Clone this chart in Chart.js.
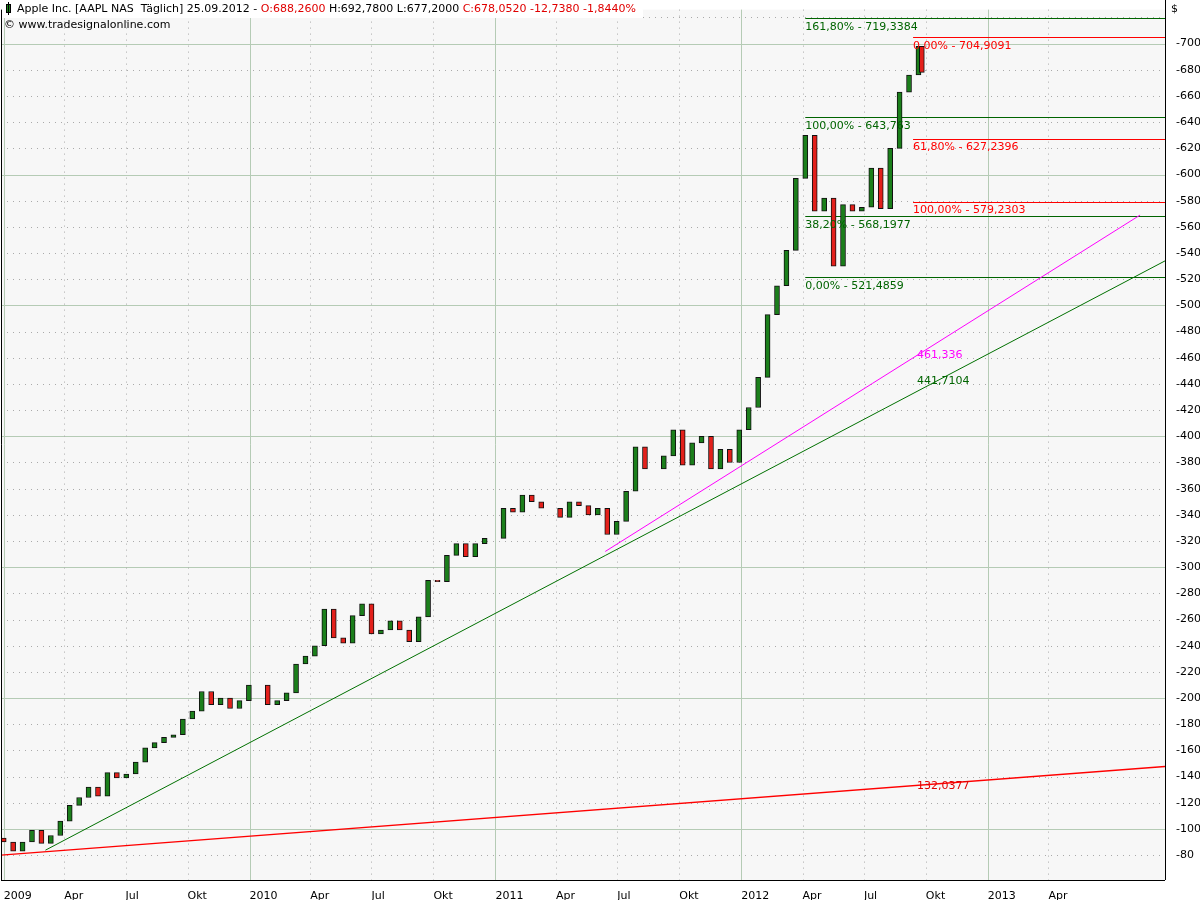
<!DOCTYPE html>
<html><head><meta charset="utf-8">
<script src="https://cdn.jsdelivr.net/npm/chart.js@4/dist/chart.umd.min.js"></script>
<style>html,body{margin:0;padding:0;background:#fff}#w{width:1200px;height:900px}</style>
</head><body><div id="w"><canvas id="c"></canvas></div>
<script>
// days since 2009-01-01, biweekly candles
const candleDays = [0,14,28,42,56,70,84,98,112,126,140,154,168,182,196,210,224,238,252,266,280,294,308,322,336,350,364,378,392,406,420,434,448,462,476,490,504,518,532,546,560,574,588,602,616,630,644,658,672,686,700,714,728,742,756,770,784,798,812,826,840,854,868,882,896,910,924,938,952,966,980,994,1008,1022,1036,1050,1064,1078,1092,1106,1120,1134,1148,1162,1176,1190,1204,1218,1232,1246,1260,1274,1288,1302,1316,1330,1344,1358,1363];
const closes = [90,83,90,99,89,95,106,118,124,132,125,143,139,142,151,162,166,170,172,184,190,205,195,200,192,198,210,210,195,198,204,226,232,240,268,246,242,263,272,249,252,259,252,243,262,290,289,309,318,308,318,322,322,345,342,355,350,345,345,338,350,347,340,345,325,335,358,392,375,375,385,405,378,395,400,375,390,380,405,422,445,493,515,542,597,630,572,582,530,577,572,575,605,574,620,663,676,698,678];
const firstOpen = 93;
const quarterDays = [0,90,181,273,365,455,546,638,730,820,911,1003,1095,1186,1277,1369,1461,1551];
const quarterLabels = ["2009","Apr","Jul","Okt","2010","Apr","Jul","Okt","2011","Apr","Jul","Okt","2012","Apr","Jul","Okt","2013","Apr"];
const redTrend = [{x:-4,y:80},{x:1724,y:147.7}];
const greenTrend = [{x:62,y:83.8},{x:1724,y:534}];
const magentaTrend = [{x:893,y:312},{x:1687,y:569}];
const fibGreen = [719.3384,643.763,568.1977,521.4859];
const fibGreenLabels = ["161,80% - 719,3384","100,00% - 643,763","38,20% - 568,1977","0,00% - 521,4859"];
const fibRed = [704.9091,627.2396,579.2303];
const fibRedLabels = ["0,00% - 704,9091","61,80% - 627,2396","100,00% - 579,2303"];
const fibGreenStart = 1190, fibRedStart = 1350, xMax = 1724;
const trendLabels = [{x:1350,y:461.336,t:"461,336",c:"#ff00ff"},{x:1350,y:441.7104,t:"441,7104",c:"#006400"},{x:1350,y:132.0377,t:"132,0377",c:"#e00000"}];

const candles = candleDays.map((d,i)=>({x:d,y:[i?closes[i-1]:firstOpen,closes[i]]}));
const candleColors = candles.map(c=>c.y[1]>=c.y[0]?'#1b7f1b':'#e3201b');

const font = '11px "DejaVu Sans", Verdana, sans-serif';
const bgPlugin = {
  id:'bg',
  beforeDatasetsDraw(ch){
    const {ctx,chartArea:a,scales:{x,y}}=ch;
    ctx.save();
    ctx.fillStyle='#f7f7f7';ctx.fillRect(a.left,a.top,a.right-a.left,a.bottom-a.top);
    ctx.lineWidth=1;
    for(let v=80;v<=720;v+=20){
      const py=Math.round(y.getPixelForValue(v))+0.5;
      if(v%100===0){ctx.setLineDash([]);ctx.strokeStyle='#b5cbb5';}
      else {ctx.setLineDash([1,5]);ctx.strokeStyle='#aaaaaa';}
      ctx.beginPath();ctx.moveTo(a.left,py);ctx.lineTo(a.right,py);ctx.stroke();
    }
    quarterDays.forEach((d,i)=>{
      const px=Math.round(x.getPixelForValue(d))+0.5;
      if(i%4===0){ctx.setLineDash([]);ctx.strokeStyle='#b5cbb5';}
      else {ctx.setLineDash([1,5]);ctx.strokeStyle='#aaaaaa';}
      ctx.beginPath();ctx.moveTo(px,a.top);ctx.lineTo(px,a.bottom);ctx.stroke();
    });
    ctx.setLineDash([]);
    ctx.strokeStyle='#006400';
    fibGreen.forEach(v=>{const py=Math.round(y.getPixelForValue(v))+0.5;ctx.beginPath();ctx.moveTo(x.getPixelForValue(fibGreenStart),py);ctx.lineTo(a.right,py);ctx.stroke();});
    ctx.strokeStyle='#ff0000';
    fibRed.forEach(v=>{const py=Math.round(y.getPixelForValue(v))+0.5;ctx.beginPath();ctx.moveTo(x.getPixelForValue(fibRedStart),py);ctx.lineTo(a.right,py);ctx.stroke();});
    ctx.restore();
  },
  afterDraw(ch){
    const {ctx,chartArea:a,scales:{x,y}}=ch;
    ctx.save();
    ctx.font=font;ctx.textBaseline='top';ctx.textAlign='left';
    ctx.fillStyle='#006400';
    fibGreen.forEach((v,i)=>ctx.fillText(fibGreenLabels[i],x.getPixelForValue(fibGreenStart),y.getPixelForValue(v)+3));
    ctx.fillStyle='#ff0000';
    fibRed.forEach((v,i)=>ctx.fillText(fibRedLabels[i],x.getPixelForValue(fibRedStart),y.getPixelForValue(v)+3));
    trendLabels.forEach(t=>{ctx.fillStyle=t.c;ctx.fillText(t.t,x.getPixelForValue(t.x)+4,y.getPixelForValue(t.y)-6);});
    ctx.strokeStyle='#000';ctx.lineWidth=1;
    ctx.beginPath();ctx.moveTo(a.left+0.5,a.top);ctx.lineTo(a.left+0.5,a.bottom);ctx.moveTo(a.right+0.5,0);ctx.lineTo(a.right+0.5,a.bottom);ctx.moveTo(a.left,a.bottom+0.5);ctx.lineTo(a.right,a.bottom+0.5);ctx.stroke();
    const parts=[["Apple Inc. [AAPL NAS  Täglich] 25.09.2012 - ","#000"],["O:688,2600 ","#e00000"],["H:692,7800 L:677,2000 ","#000"],["C:678,0520 -12,7380 -1,8440%","#e00000"]];
    let w=0;parts.forEach(p=>w+=ctx.measureText(p[0]).width);
    ctx.fillStyle='#fff';ctx.fillRect(a.left+1,1,w+22,17);
    ctx.fillStyle='#1b7f1b';ctx.fillRect(6,4,5,9);ctx.strokeStyle='#000';ctx.strokeRect(6.5,4.5,4,8);
    ctx.beginPath();ctx.moveTo(8.5,2);ctx.lineTo(8.5,15);ctx.stroke();
    let px=17;parts.forEach(p=>{ctx.fillStyle=p[1];ctx.fillText(p[0],px,4);px+=ctx.measureText(p[0]).width;});
    ctx.fillStyle='#000';ctx.fillText("© www.tradesignalonline.com",4,20);
    ctx.fillText("$",a.right+6,4);
    ctx.restore();
  }
};

new Chart(document.getElementById('c'),{
  type:'bar',
  data:{datasets:[
    {type:'line',data:redTrend,borderColor:'#ff0000',borderWidth:1.3,pointRadius:0,order:2},
    {type:'line',data:greenTrend,borderColor:'#007000',borderWidth:1,pointRadius:0,order:2},
    {type:'line',data:magentaTrend,borderColor:'#ff00ff',borderWidth:1,pointRadius:0,order:2},
    {type:'bar',data:candles,backgroundColor:candleColors,borderColor:'#111',borderWidth:1,barThickness:5,borderSkipped:false,order:1}
  ]},
  options:{
    responsive:true,maintainAspectRatio:false,animation:false,
    layout:{padding:{top:5,left:1,right:0,bottom:0}},
    plugins:{legend:{display:false},tooltip:{enabled:false}},
    scales:{
      x:{type:'linear',offset:false,min:-4,max:xMax,grid:{display:false,offset:false},border:{display:false},
        afterBuildTicks(s){s.ticks=quarterDays.map(v=>({value:v}));},
        afterFit(s){s.height=20;},
        ticks:{autoSkip:false,align:'start',maxRotation:0,padding:2,color:'#000',font:{size:11,family:'"DejaVu Sans", Verdana'},
          callback:(v)=>{const i=quarterDays.indexOf(v);return i>=0?quarterLabels[i]:'';}}},
      y:{position:'right',min:61,max:726,grid:{display:false},border:{display:false},
        afterBuildTicks(s){const t=[];for(let v=80;v<=700;v+=20)t.push({value:v});s.ticks=t;},
        afterFit(s){s.width=35;},
        ticks:{padding:3,color:'#000',font:{size:11,family:'"DejaVu Sans", Verdana'},callback:v=>'-'+v}}
    }
  },
  plugins:[bgPlugin]
});
</script></body></html>
